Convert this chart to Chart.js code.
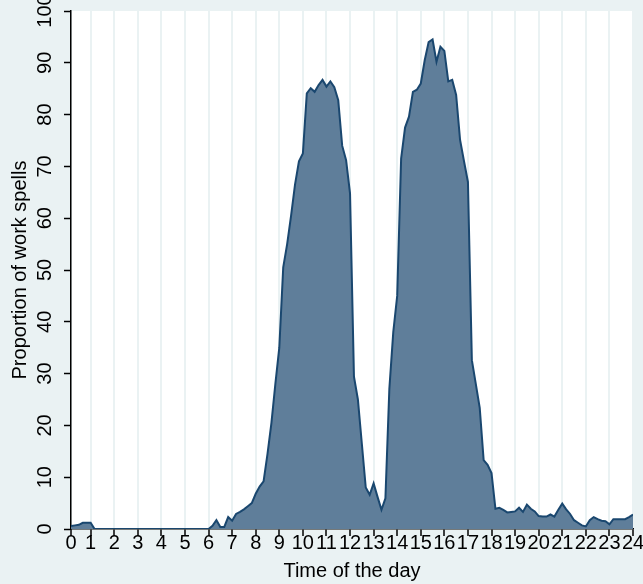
<!DOCTYPE html>
<html>
<head>
<meta charset="utf-8">
<script src="https://cdn.jsdelivr.net/npm/chart.js"></script>
<style>
  html, body { margin: 0; padding: 0; background: rgb(234, 242, 243); }
  canvas { display: block; }
</style>
</head>
<body>
<canvas id="myChart" width="643" height="584"></canvas>
<script>
// posiciones (intervalos de 10 minutos) donde va cada etiqueta de hora
const tickPos = [1, 6, 12, 18, 24, 30, 36, 42, 48, 54, 60, 66, 72, 78, 84, 90, 96, 102, 108, 114, 120, 126, 132, 138, 144];
const tickLabels = ["0", "1", "2", "3", "4", "5", "6", "7", "8", "9", "10", "11", "12", "13", "14", "15", "16", "17", "18", "19", "20", "21", "22", "23", "24"];

// proporcion de spells de trabajo por intervalo (1..144)
const workSpells = [
  0.6, 0.7, 0.8, 1.2, 1.2, 1.2,
  0, 0, 0, 0, 0, 0, 0, 0, 0, 0, 0, 0, 0, 0, 0,
  0, 0, 0, 0, 0, 0, 0, 0, 0, 0, 0, 0, 0, 0, 0,
  0.6, 1.7, 0.4, 0.4, 2.3, 1.6, 2.9, 3.3, 3.8, 4.4, 5.0, 6.8, 8.2, 9.2,
  14.5, 20.5, 28, 35, 50.5, 55, 60.5, 66.5, 71, 72.5,
  84.1, 85.1, 84.4, 85.7, 86.7, 85.4, 86.4, 85.3, 82.8, 74, 71.2, 64.8,
  29.4, 25, 16.5, 8, 6.6, 8.8, 6.2, 3.7, 5.9, 27, 38, 45,
  71.5, 77.5, 79.6, 84.4, 84.8, 86, 90.5, 94, 94.5, 90.2, 93.1, 92.3,
  86.4, 86.7, 83.8, 75.1, 71, 67, 32.6, 28, 23.4, 13.3, 12.4, 10.8,
  3.9, 4.1, 3.7, 3.2, 3.3, 3.4, 4.1, 3.3, 4.7, 3.9, 3.4, 2.5,
  2.4, 2.4, 2.8, 2.4, 3.7, 4.9, 3.8, 2.9, 1.7, 1.2, 0.7, 0.5,
  1.7, 2.3, 1.9, 1.6, 1.5, 0.9, 1.9, 1.9, 1.9, 1.9, 2.3, 2.8,
];

Chart.defaults.font.family = "'Liberation Sans', Arial, sans-serif";
Chart.defaults.color = "#000";

// fondo blanco solo en el area del grafico
const plotBackground = {
  id: "plotBackground",
  beforeDraw: (chart) => {
    const { ctx, chartArea } = chart;
    ctx.save();
    ctx.fillStyle = "#fff";
    ctx.fillRect(chartArea.left, chartArea.top, chartArea.right - chartArea.left, chartArea.bottom - chartArea.top);
    ctx.restore();
  },
};

// etiquetas del eje y giradas como en Stata
const rotatedYLabels = {
  id: "rotatedYLabels",
  afterDraw: (chart) => {
    const { ctx } = chart;
    const y = chart.scales.y;
    ctx.save();
    ctx.font = "20px 'Liberation Sans', Arial, sans-serif";
    ctx.fillStyle = "#000";
    ctx.textAlign = "center";
    ctx.textBaseline = "middle";
    y.ticks.forEach((tick) => {
      ctx.save();
      ctx.translate(45.7, y.getPixelForValue(tick.value));
      ctx.rotate(-Math.PI / 2);
      ctx.fillText(String(tick.value), 0, 0);
      ctx.restore();
    });
    ctx.restore();
  },
};

const ctx = document.getElementById("myChart");
const myChart = new Chart(ctx, {
  type: "line",
  data: {
    datasets: [
      {
        data: workSpells.map((v, i) => ({ x: i + 1, y: v })),
        fill: "origin",
        backgroundColor: "rgb(95, 126, 154)",
        borderColor: "rgb(26, 71, 111)",
        borderWidth: 2,
        pointRadius: 0,
        tension: 0,
      },
    ],
  },
  options: {
    responsive: false,
    animation: false,
    layout: { padding: { top: 11, right: 10, left: 0, bottom: 0 } },
    plugins: {
      legend: { display: false },
      tooltip: { enabled: false },
    },
    scales: {
      x: {
        type: "linear",
        min: 1,
        max: 144,
        afterBuildTicks: (scale) => {
          scale.ticks = tickPos.map((v) => ({ value: v }));
        },
        afterFit: (scale) => {
          scale.height = 55;
        },
        ticks: {
          autoSkip: false,
          maxRotation: 0,
          padding: -3,
          font: { size: 20, lineHeight: 1 },
          callback: (value, index) => tickLabels[index],
        },
        grid: {
          color: "rgb(234, 242, 243)",
          lineWidth: 2,
          tickColor: "#000",
          tickLength: 7,
          tickWidth: 1.5,
        },
        border: { color: "#000", width: 1.5 },
        title: {
          display: true,
          text: "Time of the day",
          font: { size: 20 },
          padding: { top: 0, bottom: 1 },
        },
      },
      y: {
        min: 0,
        max: 100,
        ticks: { stepSize: 10, display: false },
        afterFit: (scale) => {
          scale.width = 71;
        },
        grid: {
          drawOnChartArea: false,
          tickColor: "#000",
          tickLength: 7,
          tickWidth: 1.5,
        },
        border: { color: "#000", width: 1.5 },
        title: {
          display: true,
          text: "Proportion of work spells",
          font: { size: 20 },
          padding: { top: 8.6, bottom: 0 },
        },
      },
    },
  },
  plugins: [plotBackground, rotatedYLabels],
});
</script>
</body>
</html>
